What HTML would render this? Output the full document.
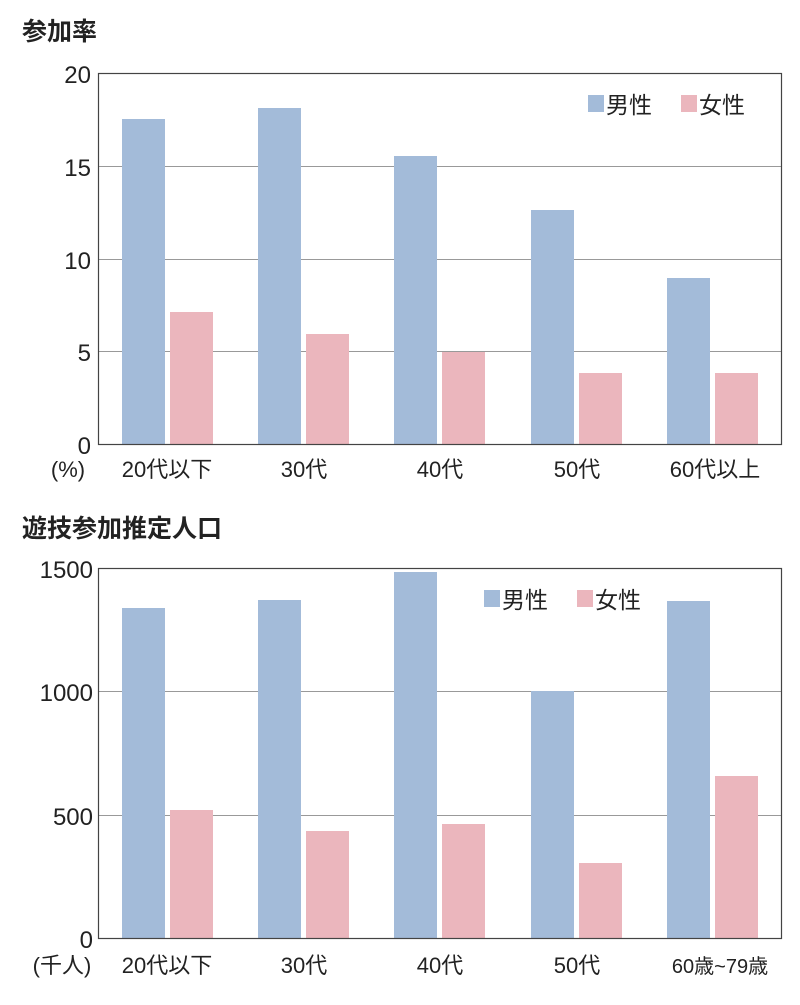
<!DOCTYPE html>
<html><head><meta charset="utf-8"><style>
body{margin:0;background:#fff}
svg text{font-family:"Liberation Sans","Noto Sans CJK JP",sans-serif;fill:#222}
</style></head><body>
<svg width="800" height="1000" viewBox="0 0 800 1000" xmlns="http://www.w3.org/2000/svg">
<rect width="800" height="1000" fill="#fff"/>
<text x="22" y="40" font-size="25" font-weight="bold">参加率</text>
<g stroke="#999" stroke-width="1">
<line x1="98" y1="166.5" x2="782" y2="166.5"/><line x1="98" y1="259.5" x2="782" y2="259.5"/><line x1="98" y1="351.5" x2="782" y2="351.5"/>
</g>
<g fill="#a3bbd9">
<rect x="122" y="119" width="43" height="325"/><rect x="258" y="108" width="43" height="336"/><rect x="394" y="156" width="43" height="288"/><rect x="531" y="210" width="43" height="234"/><rect x="667" y="278" width="43" height="166"/>
</g>
<g fill="#ebb6bd">
<rect x="170" y="312" width="43" height="132"/><rect x="306" y="334" width="43" height="110"/><rect x="442" y="352" width="43" height="92"/><rect x="579" y="373" width="43" height="71"/><rect x="715" y="373" width="43" height="71"/>
</g>
<rect x="98.5" y="73.5" width="683" height="371" fill="none" stroke="#444" stroke-width="1.2"/>
<rect x="588" y="95" width="16" height="17" fill="#a3bbd9"/><text x="606" y="113" font-size="23">男性</text>
<rect x="681" y="95" width="16" height="17" fill="#ebb6bd"/><text x="699" y="113" font-size="23">女性</text>
<g font-size="24" text-anchor="end">
<text x="91" y="83">20</text><text x="91" y="176">15</text><text x="91" y="269">10</text><text x="91" y="361">5</text><text x="91" y="454">0</text>
</g>
<g font-size="22" text-anchor="middle">
<text x="68" y="477">(%)</text><text x="167" y="477">20代以下</text><text x="304" y="477">30代</text><text x="440" y="477">40代</text><text x="577" y="477">50代</text><text x="715" y="477">60代以上</text>
</g>

<text x="22" y="537" font-size="25" font-weight="bold">遊技参加推定人口</text>
<g stroke="#999" stroke-width="1">
<line x1="98" y1="691.5" x2="782" y2="691.5"/><line x1="98" y1="815.5" x2="782" y2="815.5"/>
</g>
<g fill="#a3bbd9">
<rect x="122" y="608" width="43" height="330"/><rect x="258" y="600" width="43" height="338"/><rect x="394" y="572" width="43" height="366"/><rect x="531" y="691" width="43" height="247"/><rect x="667" y="601" width="43" height="337"/>
</g>
<g fill="#ebb6bd">
<rect x="170" y="810" width="43" height="128"/><rect x="306" y="831" width="43" height="107"/><rect x="442" y="824" width="43" height="114"/><rect x="579" y="863" width="43" height="75"/><rect x="715" y="776" width="43" height="162"/>
</g>
<rect x="98.5" y="568.5" width="683" height="370" fill="none" stroke="#444" stroke-width="1.2"/>
<rect x="484" y="590" width="16" height="17" fill="#a3bbd9"/><text x="502" y="608" font-size="23">男性</text>
<rect x="577" y="590" width="16" height="17" fill="#ebb6bd"/><text x="595" y="608" font-size="23">女性</text>
<g font-size="24" text-anchor="end">
<text x="93" y="578">1500</text><text x="93" y="701">1000</text><text x="93" y="825">500</text><text x="93" y="948">0</text>
</g>
<g font-size="22" text-anchor="middle">
<text x="62" y="973">(千人)</text><text x="167" y="973">20代以下</text><text x="304" y="973">30代</text><text x="440" y="973">40代</text><text x="577" y="973">50代</text><text x="720" y="973" font-size="20">60歳~79歳</text>
</g>
</svg>
</body></html>
